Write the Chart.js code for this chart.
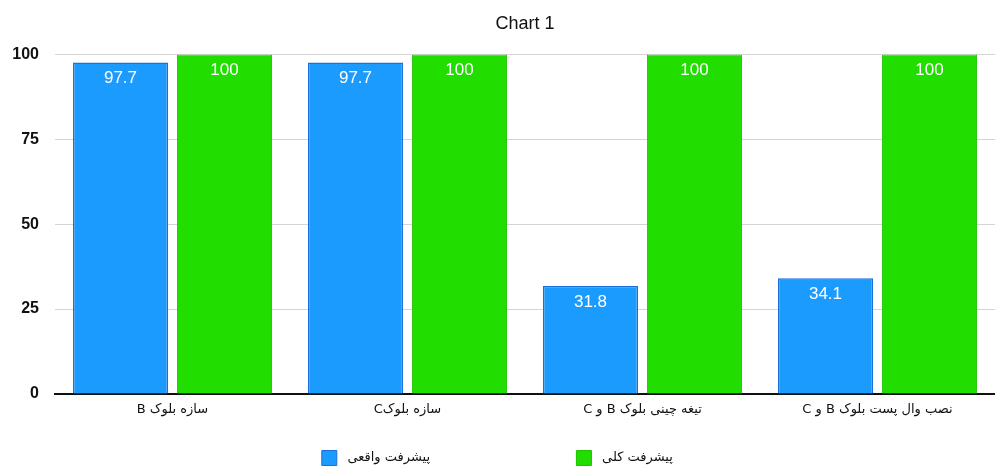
<!DOCTYPE html>
<html><head><meta charset="utf-8">
<script src="https://cdn.jsdelivr.net/npm/chart.js@4"></script>
<style>html,body{margin:0;padding:0;background:#fff}#wrap{width:995px;height:466px}</style>
</head><body><div id="wrap"><canvas id="c"></canvas></div>
<script>
const categories = ["سازه بلوک B", "سازه بلوکC", "تیغه چینی بلوک B و C", "نصب وال پست بلوک B و C"];
const actualProgress = [97.7, 97.7, 31.8, 34.1];
const totalProgress = [100, 100, 100, 100];
const seriesNames = ["پیشرفت واقعی", "پیشرفت کلی"];
const yTicks = [0, 25, 50, 75, 100];

const RLI = '\u2067', PDI = '\u2069';

const valueLabels = {
  id: 'valueLabels',
  afterDatasetsDraw(chart) {
    const ctx = chart.ctx;
    ctx.save();
    ctx.fillStyle = '#ffffff';
    ctx.font = '17px "Liberation Sans", Arial, sans-serif';
    ctx.textAlign = 'center';
    ctx.textBaseline = 'middle';
    chart.data.datasets.forEach((ds, i) => {
      chart.getDatasetMeta(i).data.forEach((bar, j) => {
        ctx.fillText(String(ds.data[j]), bar.x, bar.y + 16);
      });
    });
    ctx.restore();
  }
};

new Chart(document.getElementById('c'), {
  type: 'bar',
  data: {
    labels: categories.map(c => RLI + c + PDI),
    datasets: [
      { label: seriesNames[0], data: actualProgress, backgroundColor: '#1c9bff', borderColor: '#1a6fdc', borderWidth: 1.5 },
      { label: seriesNames[1], data: totalProgress, backgroundColor: '#22dd00', borderColor: '#1cc400', borderWidth: 1 }
    ]
  },
  options: {
    responsive: true,
    maintainAspectRatio: false,
    animation: false,
    layout: { padding: { left: 12, right: 0, top: 0, bottom: -9.5 } },
    datasets: { bar: { categoryPercentage: 0.885, barPercentage: 0.915 } },
    plugins: {
      title: { display: true, fullSize: false, text: 'Chart 1', color: '#111', font: { size: 18, family: '"Liberation Sans", Arial, sans-serif', weight: 'normal' }, padding: { top: 13, bottom: 20 } },
      legend: {
        position: 'bottom',
        labels: {
          boxWidth: 15, boxHeight: 15, padding: 10, color: '#111',
          font: { size: 13, family: '"DejaVu Sans", sans-serif' },
          generateLabels(chart) {
            const items = Chart.defaults.plugins.legend.labels.generateLabels(chart);
            items.forEach((it, i) => {
              it.text = ' ' + it.text + (i === 0 ? ' '.repeat(33) : ' '.repeat(3));
              it.lineWidth = 1;
            });
            return items;
          }
        }
      },
      tooltip: { enabled: false }
    },
    scales: {
      x: {
        grid: { display: false, drawTicks: false },
        border: { display: true, color: '#111', width: 2 },
        ticks: { color: '#111', font: { size: 13, family: '"DejaVu Sans", sans-serif' }, padding: 8 },
        afterFit(axis) { axis.height += 15; }
      },
      y: {
        min: 0, max: 100,
        afterBuildTicks(axis) { axis.ticks = yTicks.map(v => ({ value: v })); },
        afterFit(axis) { axis.width = 43; },
        grid: { color: '#d4d4d4', drawTicks: false },
        border: { display: false },
        ticks: { color: '#111', font: { size: 16, weight: 'bold', family: '"Liberation Sans", Arial, sans-serif' }, padding: 16 }
      }
    }
  },
  plugins: [valueLabels]
});
</script></body></html>
